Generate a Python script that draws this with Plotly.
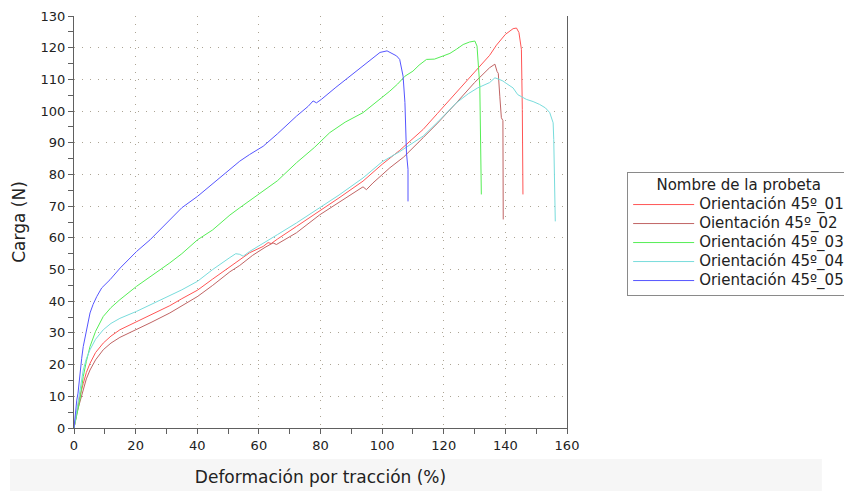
import plotly.graph_objects as go

names = ["Orientación 45º_01", "Oientación 45º_02", "Orientación 45º_03",
         "Orientación 45º_04", "Orientación 45º_05"]
colors = ["#ff5555", "#c06464", "#55ee55", "#78dcdc", "#5555ff"]

x01 = [0, 0.5, 1, 1.9, 3, 4, 5.2, 7, 9.5, 12, 14.9, 20.3, 25, 31.1, 35, 40.1, 45, 50.6, 53.8, 57, 61.4, 63, 64, 66,
       72.2, 79.8, 86, 93.8, 100, 105.7, 113.3, 118, 124.1, 128, 131.7, 134.9, 137.1, 140, 142.5, 143.6, 144.4,
       145.2, 145.5, 145.7]
y01 = [0, 3, 6, 10, 14, 17.5, 20.4, 23.8, 26.8, 29, 31, 33.6, 35.8, 38.6, 40.8, 43.5, 47, 51, 53.2, 55.3, 57.3, 58.5,
       58.2, 59.6, 63.6, 68.4, 72.6, 77.9, 83.2, 87.6, 94.2, 99.3, 105.9, 110, 113.8, 117.6, 120.8, 124.2, 126,
       126.2, 124.8, 119.5, 100.5, 73.7]

x02 = [0, 0.5, 1, 2, 3, 4, 5.2, 7, 9.5, 12, 14.9, 20.3, 25, 31.1, 35, 40.1, 45, 50.6, 53.8, 58, 62, 64.6, 65.7, 68,
       72.2, 79.8, 86, 93.8, 94.9, 97, 102.5, 107, 113.3, 118, 124.1, 130, 134.9, 136.6, 137.3, 137.7, 138.2,
       138.7, 139.2, 139.3]
y02 = [0, 2.5, 5, 8.5, 12, 15.5, 18.3, 21.5, 24.7, 26.8, 28.6, 31, 33.3, 36.3, 38.5, 41.5, 45, 49.3, 51.3, 54.5, 57,
       58.4, 57.9, 59.3, 61.6, 67.3, 71.2, 76.1, 75.2, 77.3, 82.1, 85.5, 91.6, 96.2, 102.6, 109, 113.7, 114.8,
       112.5, 111.9, 104.5, 97.9, 97, 65.8]

x03 = [0, 0.5, 1, 1.9, 3, 4, 5.2, 7, 9.5, 12, 14.9, 20.3, 25, 31.1, 35, 40.1, 45, 50.6, 53.8, 57, 61.4, 66, 72.2, 78,
       83, 88, 93.8, 99.3, 102.5, 105, 107.4, 110, 112, 114.4, 117, 119.8, 122, 124.1, 126.3, 128.4, 130.1, 130.8,
       131.1, 131.7, 132.2]
y03 = [0, 2, 4.5, 8.8, 16.2, 21, 25.7, 30.5, 35.2, 38, 40.5, 44.7, 47.8, 52.1, 55, 59.4, 62.5, 67.2, 69.5, 71.8, 74.8,
       78, 83.7, 88.5, 93.2, 96.5, 99.5, 103.7, 106.3, 108.5, 111, 112.6, 114.5, 116.3, 116.4, 117.4, 118.2, 119.5,
       121, 121.8, 122.1, 120.5, 115.3, 107.9, 73.7]

x04 = [0, 0.5, 1, 2, 3, 4, 5.2, 7, 9.5, 12, 14.9, 20.3, 25, 31.1, 35, 40.1, 45, 50.6, 52.5, 53.8, 54.9, 57, 61.4, 66,
       72.2, 79.8, 86, 93.8, 100, 105.7, 113.3, 118, 124.1, 128, 131, 134.9, 136.6, 138, 139.2, 140.5, 142.5, 144,
       146.8, 149, 151.1, 153, 154.4, 155.5, 155.7, 156.2]
y04 = [0, 3, 6.5, 12, 18.3, 21.8, 24.7, 28, 31, 33, 34.6, 36.8, 39, 41.8, 43.6, 46.3, 50, 53.8, 55.0, 54.8, 54.2, 55.7,
       58.4, 61, 64.7, 69.5, 73.5, 78.9, 84, 87.2, 92.1, 96.5, 102.6, 105.5, 107.3, 109, 110.5, 110, 109.5, 108.6,
       107.3, 105.2, 103.7, 103, 102.1, 101, 99.5, 96.3, 91, 65.2]

x05 = [0, 0.3, 0.6, 0.9, 1.3, 1.9, 2.5, 3, 4.1, 5.2, 6.2, 7.4, 9, 11.7, 15, 20.3, 24.7, 31.1, 35, 40.1, 45, 50.6,
       53.8, 57, 61.4, 66, 72.2, 76, 77.6, 78.7, 80.3, 85, 90, 95, 99.3, 101.6, 102.5, 104.7, 105.7, 106.3, 106.8,
       107.4, 107.9, 108.4, 108.4]
y05 = [0, 3, 7, 8.8, 11, 17.3, 22, 25.7, 31, 36.3, 39, 41.5, 44.2, 46.8, 50.5, 55.7, 59.4, 65.8, 69.5, 73.1, 77, 81.6,
       84.2, 86.3, 88.9, 92.8, 98.4, 101.5, 103.2, 102.6, 103.7, 107.5, 111.3, 115, 118.5, 119, 118.6, 117.4, 116.3,
       113.2, 111, 102.7, 86.8, 81.6, 71.5]

x_ticks = [0, 20, 40, 60, 80, 100, 120, 140, 160]
y_ticks = list(range(0, 131, 10))

series = [(x01, y01), (x02, y02), (x03, y03), (x04, y04), (x05, y05)]

fig = go.Figure()
for (xs, ys), nm, c in zip(series, names, colors):
    fig.add_trace(go.Scatter(x=xs, y=ys, mode="lines",
                             name='<span style="font-size:15px">' + nm + '</span>',
                             line=dict(color=c, width=1)))

font_family = "DejaVu Sans, Verdana, sans-serif"
grid = dict(gridcolor="#aca494", gridwidth=1, griddash="1px,7px")

fig.update_layout(
    width=844, height=491,
    margin=dict(l=74, r=277, t=16, b=63, autoexpand=False),
    paper_bgcolor="white", plot_bgcolor="white",
    font=dict(family=font_family, size=13, color="#222222"),
    showlegend=True,
    legend=dict(
        x=1.122, y=0.621, xanchor="left", yanchor="top",
        bordercolor="#8a8a8a", borderwidth=1, bgcolor="white",
        font=dict(size=11, color="#222222"),
        title=dict(text='<span style="font-size:15px">Nombre de la probeta</span>',
                   side="top center", font=dict(size=13)),
        itemwidth=61, tracegroupgap=0,
    ),
    xaxis=dict(
        range=[0, 160], tickvals=x_ticks, ticktext=[str(v) for v in x_ticks],
        showline=True, linecolor="#606060", linewidth=1, automargin=False,
        ticks="outside", ticklen=5, tickcolor="#606060",
        minor=dict(dtick=10, tick0=0, ticks="outside", ticklen=5, tickcolor="#606060", showgrid=False),
        showgrid=True, zeroline=False, **grid,
        title=dict(text="Deformación por tracción (%)", font=dict(size=17), standoff=19),
        tickfont=dict(size=13),
    ),
    yaxis=dict(
        range=[0, 130], tickvals=y_ticks, ticktext=[str(v) for v in y_ticks],
        showline=True, linecolor="#606060", linewidth=1, mirror=True, automargin=False,
        ticks="outside", ticklen=5, tickcolor="#606060",
        minor=dict(dtick=5, tick0=0, ticks="outside", ticklen=5, tickcolor="#606060", showgrid=False),
        showgrid=True, zeroline=False, **grid,
        title=dict(text="Carga (N)", font=dict(size=17), standoff=10),
        tickfont=dict(size=13),
    ),
    shapes=[dict(type="rect", xref="paper", yref="paper",
                 x0=-0.13, x1=1.517, y0=-0.155, y1=-0.075,
                 fillcolor="#f6f6f6", line=dict(width=0), layer="below")],
)

fig.write_html("out.html", config={"displayModeBar": False},
               post_script="document.body.style.margin='0';")
